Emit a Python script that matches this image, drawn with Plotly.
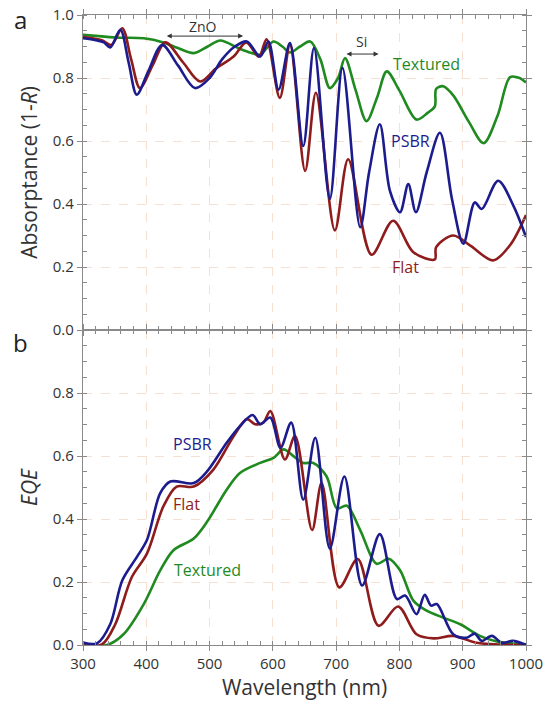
import plotly.graph_objects as go
from plotly.subplots import make_subplots

# ---------- Panel a: Absorptance (1-R) ----------
abs_tex_wl = [300, 330, 359, 396, 427, 450, 475, 497, 517, 545, 565, 580, 601, 615, 627, 643, 659, 675, 690, 703, 714, 731, 748, 765, 780, 800, 827, 845, 856, 858, 869, 885, 910, 933, 955, 975, 990, 1000]
abs_tex_val = [0.937, 0.932, 0.928, 0.926, 0.913, 0.895, 0.879, 0.900, 0.919, 0.895, 0.880, 0.874, 0.916, 0.900, 0.881, 0.900, 0.916, 0.860, 0.768, 0.800, 0.863, 0.760, 0.663, 0.740, 0.821, 0.760, 0.668, 0.690, 0.710, 0.765, 0.774, 0.745, 0.660, 0.593, 0.680, 0.803, 0.800, 0.786]

abs_psbr_wl = [300, 320, 333, 343, 359, 372, 385, 403, 425, 450, 477, 500, 520, 540, 559, 580, 593, 609, 627, 648, 665, 690, 710, 738, 752, 769, 785, 801, 814, 826, 843, 864, 883, 901, 919, 930, 956, 980, 1000]
abs_psbr_val = [0.926, 0.920, 0.913, 0.897, 0.953, 0.850, 0.747, 0.820, 0.905, 0.840, 0.768, 0.800, 0.860, 0.900, 0.916, 0.868, 0.916, 0.763, 0.911, 0.584, 0.895, 0.416, 0.832, 0.326, 0.500, 0.653, 0.442, 0.374, 0.463, 0.374, 0.500, 0.626, 0.416, 0.274, 0.405, 0.384, 0.474, 0.395, 0.295]

abs_flat_wl = [300, 330, 345, 362, 376, 390, 410, 430, 458, 485, 510, 538, 558, 578, 590, 611, 627, 651, 668, 698, 719, 756, 790, 822, 856, 858, 885, 912, 948, 975, 1000]
abs_flat_val = [0.930, 0.920, 0.905, 0.958, 0.860, 0.768, 0.840, 0.913, 0.850, 0.789, 0.830, 0.868, 0.913, 0.868, 0.923, 0.737, 0.905, 0.505, 0.753, 0.316, 0.542, 0.239, 0.347, 0.247, 0.224, 0.263, 0.300, 0.268, 0.221, 0.270, 0.365]

# ---------- Panel b: EQE ----------
eqe_psbr_wl = [300, 322, 343, 362, 385, 401, 422, 438, 475, 496, 527, 548, 568, 580, 596, 612, 629, 648, 667, 690, 713, 741, 769, 796, 809, 827, 840, 850, 859, 885, 906, 919, 930, 946, 962, 979, 1000]
eqe_psbr_val = [0.008, 0.005, 0.066, 0.205, 0.279, 0.333, 0.482, 0.519, 0.514, 0.551, 0.642, 0.695, 0.730, 0.701, 0.722, 0.626, 0.706, 0.461, 0.658, 0.306, 0.535, 0.189, 0.352, 0.146, 0.157, 0.098, 0.159, 0.125, 0.130, 0.034, 0.023, 0.036, 0.013, 0.029, 0.007, 0.013, 0.0]

eqe_flat_wl = [300, 330, 351, 377, 401, 427, 448, 475, 506, 538, 559, 572, 585, 596, 619, 635, 662, 677, 705, 734, 767, 798, 827, 854, 885, 922, 1000]
eqe_flat_val = [0.0, 0.002, 0.066, 0.215, 0.290, 0.440, 0.503, 0.503, 0.557, 0.663, 0.717, 0.701, 0.706, 0.743, 0.589, 0.663, 0.365, 0.514, 0.183, 0.273, 0.061, 0.122, 0.034, 0.021, 0.029, 0.007, 0.0]

eqe_tex_wl = [300, 338, 364, 396, 422, 443, 475, 496, 527, 548, 580, 601, 617, 633, 648, 664, 685, 701, 717, 738, 764, 783, 801, 822, 843, 869, 896, 927, 954, 1000]
eqe_tex_val = [0.0, 0.0, 0.034, 0.130, 0.237, 0.301, 0.338, 0.391, 0.493, 0.546, 0.578, 0.594, 0.621, 0.599, 0.578, 0.578, 0.535, 0.434, 0.442, 0.365, 0.258, 0.274, 0.237, 0.141, 0.109, 0.087, 0.066, 0.029, 0.011, 0.002]

x_ticks = [300, 400, 500, 600, 700, 800, 900, 1000]
y_ticks = [0.0, 0.2, 0.4, 0.6, 0.8, 1.0]

GREEN = "#1f8a1f"
BLUE = "#1c1c8e"
RED = "#8e1c1c"
FONT = "Open Sans"

fig = make_subplots(rows=2, cols=1, shared_xaxes=False, vertical_spacing=0.0)

def add(wl, val, color, row):
    fig.add_trace(go.Scatter(x=wl, y=val, mode="lines",
                             line=dict(color=color, width=2.6, shape="spline", smoothing=0.9),
                             showlegend=False, hoverinfo="skip"), row=row, col=1)

add(abs_tex_wl, abs_tex_val, GREEN, 1)
add(abs_flat_wl, abs_flat_val, RED, 1)
add(abs_psbr_wl, abs_psbr_val, BLUE, 1)
add(eqe_tex_wl, eqe_tex_val, GREEN, 2)
add(eqe_flat_wl, eqe_flat_val, RED, 2)
add(eqe_psbr_wl, eqe_psbr_val, BLUE, 2)

axis_common = dict(
    showline=True, linecolor="#8a8a8a", linewidth=1.2, mirror="allticks",
    showgrid=True, gridcolor="#f5e0d2", griddash="dash", gridwidth=1,
    zeroline=False, ticks="outside", ticklen=5, tickcolor="#8a8a8a",
    tickfont=dict(family=FONT, size=15, color="#333333"),
)

fig.update_xaxes(**axis_common, range=[300, 1000], tickvals=x_ticks,
                 minor=dict(ticks="inside", ticklen=4, dtick=20, tick0=300, tickcolor="#8a8a8a", showgrid=False))
fig.update_xaxes(showticklabels=False, row=1, col=1)
fig.update_xaxes(title=dict(text="Wavelength (nm)", font=dict(family=FONT, size=21, color="#333333"), standoff=2),
                 row=2, col=1)

fig.update_yaxes(**axis_common, range=[0, 1.0], tickvals=y_ticks, tickformat=".1f",
                 minor=dict(ticks="inside", ticklen=4, dtick=0.05, tick0=0, tickcolor="#8a8a8a", showgrid=False))
fig.update_yaxes(title=dict(text="Absorptance (1-<i>R</i>)", font=dict(family=FONT, size=21, color="#333333"), standoff=9),
                 row=1, col=1)
fig.update_yaxes(ticktext=["0.0", "0.2", "0.4", "0.6", "0.8", ""],
                 title=dict(text="<i>EQE</i>", font=dict(family=FONT, size=21, color="#333333"), standoff=9),
                 row=2, col=1)

fig.update_layout(
    width=549, height=701,
    margin=dict(l=83, r=23, t=15, b=56, autoexpand=False),
    paper_bgcolor="white", plot_bgcolor="white",
    font=dict(family=FONT, color="#333333"),
)
fig.layout.yaxis.domain = [0.5, 1.0]
fig.layout.yaxis2.domain = [0.0, 0.5]

anns = [
    # panel letters
    dict(text="a", x=-0.14, y=1.0, xref="paper", yref="paper", xanchor="center", yanchor="middle", yshift=-4,
         font=dict(family=FONT, size=24, color="#222222")),
    dict(text="b", x=-0.14, y=0.48, xref="paper", yref="paper", xanchor="center", yanchor="middle",
         font=dict(family=FONT, size=24, color="#222222")),
    # panel a labels
    dict(text="ZnO", x=490, y=0.962, xref="x", yref="y", font=dict(family=FONT, size=14, color="#333333")),
    dict(text="Si", x=740, y=0.915, xref="x", yref="y", font=dict(family=FONT, size=14, color="#333333")),
    dict(text="Textured", x=843, y=0.844, xref="x", yref="y", font=dict(family=FONT, size=16, color=GREEN)),
    dict(text="PSBR", x=817, y=0.60, xref="x", yref="y", font=dict(family=FONT, size=16, color=BLUE)),
    dict(text="Flat", x=810, y=0.20, xref="x", yref="y", font=dict(family=FONT, size=16, color=RED)),
    # panel b labels
    dict(text="PSBR", x=473, y=0.637, xref="x2", yref="y2", font=dict(family=FONT, size=16, color=BLUE)),
    dict(text="Flat", x=464, y=0.448, xref="x2", yref="y2", font=dict(family=FONT, size=16, color=RED)),
    dict(text="Textured", x=497, y=0.239, xref="x2", yref="y2", font=dict(family=FONT, size=16, color=GREEN)),
]
for a in anns:
    a.setdefault("showarrow", False)
    fig.add_annotation(**a)

# double-headed arrows
for (x0, x1, yv) in [(430, 553, 0.933), (714, 767, 0.876)]:
    fig.add_annotation(x=x1, y=yv, ax=x0, ay=yv, xref="x", yref="y", axref="x", ayref="y",
                       text="", showarrow=True, arrowhead=2, arrowsize=1, arrowwidth=1,
                       arrowside="end+start", arrowcolor="#333333")

fig.write_html("out.html")
